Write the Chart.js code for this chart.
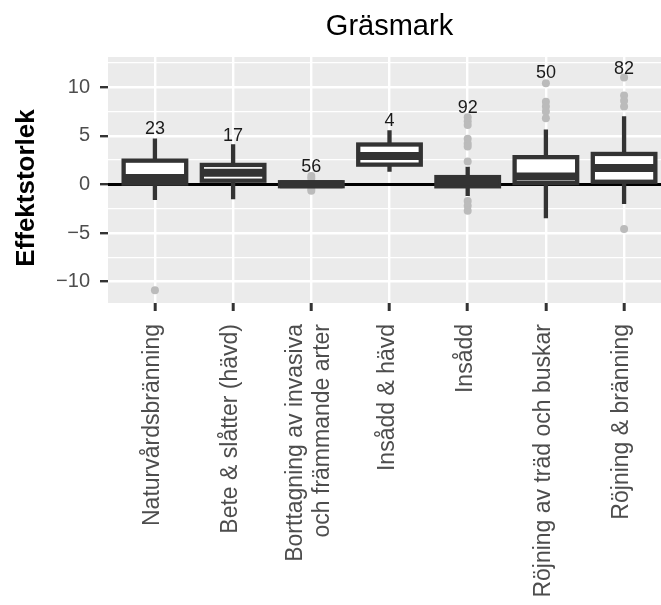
<!DOCTYPE html>
<html lang="sv">
<head>
<meta charset="UTF-8">
<title>Gräsmark</title>
<script src="https://cdn.jsdelivr.net/npm/chart.js"></script>
<style>
  html, body { margin: 0; padding: 0; background: #fff; overflow: hidden; }
  .wrap { width: 680px; height: 605px; }
</style>
</head>
<body>
<div class="wrap"><canvas id="chart" width="680" height="605"></canvas></div>
<script>
// values
const categories = [
  'Naturvårdsbränning',
  'Bete & slåtter (hävd)',
  'Borttagning av invasiva\noch främmande arter',
  'Insådd & hävd',
  'Insådd',
  'Röjning av träd och buskar',
  'Röjning & bränning'
];
const counts = [23, 17, 56, 4, 92, 50, 82];
const whiskerLow = [-1.6, -1.54, -0.3, 1.29, -1.2, -3.49, -2.02];
const q1 = [0.08, 0.38, -0.19, 2.03, -0.2, 0.13, 0.27];
const median = [0.65, 1.19, 0.02, 2.92, 0.3, 0.8, 1.69];
const q3 = [2.44, 2.0, 0.22, 4.1, 0.75, 2.8, 3.13];
const whiskerHigh = [4.72, 4.13, 0.35, 5.57, 1.8, 5.64, 7.0];
const outliers = [
  [-10.9],
  [],
  [0.85, 0.6, -0.45, -0.65],
  [],
  [6.9, 6.5, 6.1, 4.7, 4.2, 3.9, 2.35, -1.7, -2.2, -2.7],
  [10.4, 8.5, 8.0, 7.5, 6.8],
  [11.0, 9.15, 8.6, 8.0, -4.6]
];
const countLabelY = [5.7, 4.95, 1.8, 6.5, 7.9, 11.4, 11.9];
const yTicksMajor = 5;

const INK = '#333333';
const FONT = '"Liberation Sans", Arial, Helvetica, sans-serif';

const boxFill = categories.map((c, i) => ({ x: i, y: [q1[i], q3[i]] }));
const outlierPoints = [];
outliers.forEach((list, i) => list.forEach(v => outlierPoints.push({ x: i, y: v })));

const isMajor = v => Math.abs(v % yTicksMajor) < 1e-9;

const boxplotPlugin = {
  id: 'boxplot',
  beforeDraw(chart) {
    const { ctx, chartArea: a } = chart;
    ctx.save();
    ctx.fillStyle = '#ebebeb';
    ctx.fillRect(a.left, a.top, a.right - a.left, a.bottom - a.top);
    ctx.restore();
  },
  beforeDatasetsDraw(chart) {
    const { ctx, chartArea: a, scales: { y } } = chart;
    const y0 = y.getPixelForValue(0);
    ctx.save();
    ctx.strokeStyle = '#000';
    ctx.lineWidth = 3;
    ctx.beginPath();
    ctx.moveTo(a.left, y0);
    ctx.lineTo(a.right, y0);
    ctx.stroke();
    ctx.restore();
  },
  afterDatasetsDraw(chart) {
    const { ctx, chartArea: a, scales: { x, y } } = chart;
    const bars = chart.getDatasetMeta(0).data;
    ctx.save();
    ctx.strokeStyle = INK;
    ctx.lineCap = 'butt';
    bars.forEach((bar, i) => {
      const cx = bar.x;
      const half = bar.width / 2;
      const yLo = y.getPixelForValue(whiskerLow[i]);
      const yQ1 = y.getPixelForValue(q1[i]);
      const yMed = y.getPixelForValue(median[i]);
      const yQ3 = y.getPixelForValue(q3[i]);
      const yHi = y.getPixelForValue(whiskerHigh[i]);
      ctx.lineWidth = 4.3;
      ctx.beginPath();
      ctx.moveTo(cx, yQ3); ctx.lineTo(cx, yHi);
      ctx.moveTo(cx, yQ1); ctx.lineTo(cx, yLo);
      ctx.stroke();
      ctx.strokeRect(cx - half, yQ3, half * 2, yQ1 - yQ3);
      ctx.lineWidth = 8;
      ctx.beginPath();
      ctx.moveTo(cx - half, yMed); ctx.lineTo(cx + half, yMed);
      ctx.stroke();
      ctx.fillStyle = '#1a1a1a';
      ctx.font = '18px ' + FONT;
      ctx.textAlign = 'center';
      ctx.textBaseline = 'middle';
      ctx.fillText(String(counts[i]), cx, y.getPixelForValue(countLabelY[i]));
    });

    // category labels, rotated, right-aligned under the ticks
    ctx.fillStyle = '#4d4d4d';
    ctx.font = '23px ' + FONT;
    ctx.textAlign = 'right';
    ctx.textBaseline = 'middle';
    const lineH = 27;
    categories.forEach((c, i) => {
      const lines = c.split('\n');
      const px = x.getPixelForValue(i);
      lines.forEach((ln, k) => {
        const off = (k - (lines.length - 1) / 2) * lineH;
        ctx.save();
        ctx.translate(px + off - 2, a.bottom + 21);
        ctx.rotate(-Math.PI / 2);
        ctx.fillText(ln, 0, 0);
        ctx.restore();
      });
    });

    // y axis title
    ctx.save();
    ctx.fillStyle = '#000';
    ctx.font = 'bold 26px ' + FONT;
    ctx.textAlign = 'center';
    ctx.textBaseline = 'middle';
    ctx.translate(27, (a.top + a.bottom) / 2 + 8);
    ctx.rotate(-Math.PI / 2);
    ctx.fillText('Effektstorlek', 0, 0);
    ctx.restore();

    // plot title
    ctx.fillStyle = '#000';
    ctx.font = '29px ' + FONT;
    ctx.textAlign = 'center';
    ctx.textBaseline = 'middle';
    ctx.fillText('Gräsmark', (a.left + a.right) / 2, 27);
    ctx.restore();
  }
};

new Chart(document.getElementById('chart'), {
  type: 'bar',
  data: {
    datasets: [
      {
        type: 'bar',
        label: 'Box',
        data: boxFill,
        backgroundColor: '#ffffff',
        borderWidth: 0,
        barPercentage: 0.8,
        categoryPercentage: 1.0
      },
      {
        type: 'scatter',
        label: 'Outliers',
        data: outlierPoints,
        backgroundColor: '#bbbbbb',
        borderWidth: 0,
        pointRadius: 4
      }
    ]
  },
  options: {
    responsive: false,
    animation: false,
    layout: { padding: { top: 57, right: 9, left: 0, bottom: 0 } },
    plugins: { legend: { display: false }, tooltip: { enabled: true } },
    scales: {
      x: {
        type: 'linear',
        min: -0.6,
        max: 6.6,
        offset: false,
        afterFit(s) { s.height = 302; },
        grid: { offset: false, color: '#ffffff', lineWidth: 2.4, tickColor: INK, tickLength: 8, tickWidth: 3 },
        border: { display: false },
        ticks: { stepSize: 1, includeBounds: false, display: false, autoSkip: false }
      },
      y: {
        min: -12.2,
        max: 13.1,
        afterFit(s) { s.width = 108; },
        grid: {
          color: '#ffffff',
          lineWidth: c => (c.tick && isMajor(c.tick.value) ? 2.4 : 1.2),
          tickColor: c => (c.tick && isMajor(c.tick.value) ? INK : 'rgba(0,0,0,0)'),
          tickLength: 8,
          tickWidth: 2.4
        },
        border: { display: false },
        ticks: {
          stepSize: 2.5,
          includeBounds: false,
          color: '#4d4d4d',
          font: { size: 20, family: FONT },
          padding: 10,
          callback: v => (isMajor(v) ? (v < 0 ? '\u2212' + Math.abs(v) : String(v)) : '')
        }
      }
    }
  },
  plugins: [boxplotPlugin]
});
</script>
</body>
</html>
